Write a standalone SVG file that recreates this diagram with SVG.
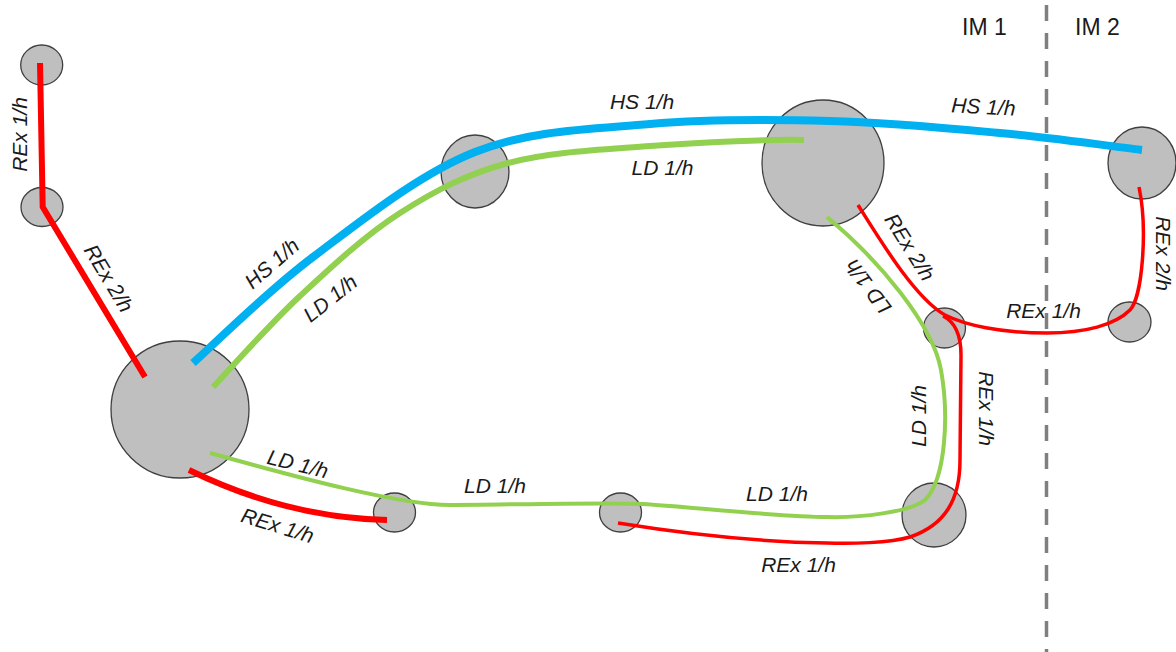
<svg xmlns="http://www.w3.org/2000/svg" width="1176" height="652" viewBox="0 0 1176 652">
<style>
.node{fill:#bfbfbf;stroke:#3f3f3f;stroke-width:1.3}
.ln{fill:none;stroke-linecap:butt;stroke-linejoin:miter}
.hs{stroke:#00b0f0;stroke-width:8}
.ldT{stroke:#92d050;stroke-width:6}
.ld{stroke:#92d050;stroke-width:4}
.rxT{stroke:#ff0000;stroke-width:6}
.rx{stroke:#ff0000;stroke-width:3.5}
.lbl{font-family:"Liberation Sans",Arial,sans-serif;font-style:italic;font-size:21px;fill:#1a1a1a;text-anchor:middle}
.im{font-family:"Liberation Sans",Arial,sans-serif;font-size:23px;fill:#1a1a1a}
</style>
<rect width="1176" height="652" fill="#ffffff"/>
<g id="boundary">
<line x1="1046.5" y1="5" x2="1046.5" y2="652" stroke="#7f7f7f" stroke-width="3.5" stroke-dasharray="16 12"/>
<text class="im" x="962" y="34.5">IM 1</text>
<text class="im" x="1075" y="34.5">IM 2</text>
</g>
<g id="n1"><ellipse class="node" cx="41.7" cy="65" rx="21" ry="20"/></g>
<g id="n2"><ellipse class="node" cx="42" cy="207" rx="21" ry="19.5"/></g>
<g id="n3"><ellipse class="node" cx="180" cy="409.5" rx="69" ry="68.5"/></g>
<g id="n4"><ellipse class="node" cx="394.5" cy="512.5" rx="21" ry="19.5"/></g>
<g id="n5"><ellipse class="node" cx="475" cy="171.5" rx="34" ry="36.5"/></g>
<g id="n6"><ellipse class="node" cx="823" cy="163" rx="61" ry="63"/></g>
<g id="n7"><ellipse class="node" cx="1142" cy="163" rx="34" ry="36"/></g>
<g id="n8"><ellipse class="node" cx="944.5" cy="328" rx="21" ry="20"/></g>
<g id="n9"><ellipse class="node" cx="1129.5" cy="322" rx="21.5" ry="20"/></g>
<g id="n10"><ellipse class="node" cx="934" cy="515" rx="32" ry="32"/></g>
<g id="n11"><ellipse class="node" cx="620.5" cy="512.5" rx="21" ry="19.5"/></g>
<g id="connectors">
<path class="ln rxT" d="M40,63 L42.7,207 L145,377"/>
<path class="ln rxT" d="M189,470 C230,490 300,518 387,520"/>
<path class="ln hs" d="M193,363 C213,345.3 266,292.2 313,257 C360,221.8 418.8,174.2 475,152 C531.2,129.8 590.8,129.2 650,124 C709.2,118.8 771.7,119.5 830,121 C888.3,122.5 948,128.2 1000,133 C1052,137.8 1118.3,147.2 1142,150"/>
<path class="ln ldT" d="M213,387 C227.5,371.8 268.8,325 300,296 C331.2,267 365.3,235.2 400,213 C434.7,190.8 466.3,174.2 508,163 C549.7,151.8 600.7,149.8 650,146 C699.3,142.2 778.3,139 804,140"/>
<path class="ln ld" d="M827,217 C879,260 933,325 941,370 C949,415 946,479 925,500 C910,512 860,518 827,517 C780,517 690,507 643,504 C600,502 500,505 450,505 C400,505 300,478 210,453"/>
<path class="ln rx" d="M858,205 C880,240 915,298 945,315 C965,325 1000,333 1047,333 C1085,333 1115,325 1130,310 C1142,298 1148,230 1139,187"/>
<path class="ln rx" d="M943,316 C955,322 961,335 961,355 L960,460 C960,500 945,525 910,537 C890,543 850,544 827,543 C760,542 680,533 618,523"/>
</g>
<g id="labels">
<text class="lbl" transform="translate(26.5,134.5) rotate(-90)">REx 1/h</text>
<text class="lbl" transform="translate(102.5,282) rotate(59)">REx 2/h</text>
<text class="lbl" transform="translate(276.6,268.9) rotate(-41.3)">HS 1/h</text>
<text class="lbl" transform="translate(334.7,303.9) rotate(-38.5)">LD 1/h</text>
<text class="lbl" x="642" y="109">HS 1/h</text>
<text class="lbl" x="662.5" y="175">LD 1/h</text>
<text class="lbl" transform="translate(983,114) rotate(3)">HS 1/h</text>
<text class="lbl" transform="translate(903.6,251) rotate(58)">REx 2/h</text>
<text class="lbl" transform="translate(874,282.5) rotate(-126.5)">LD 1/h</text>
<text class="lbl" transform="translate(1156,253.5) rotate(90)">REx 2/h</text>
<text class="lbl" x="1043.5" y="318">REx 1/h</text>
<text class="lbl" transform="translate(926,416) rotate(-90)">LD 1/h</text>
<text class="lbl" transform="translate(979,408.5) rotate(90)">REx 1/h</text>
<text class="lbl" transform="translate(296,471) rotate(14)">LD 1/h</text>
<text class="lbl" transform="translate(275.5,532.5) rotate(17)">REx 1/h</text>
<text class="lbl" x="495" y="493">LD 1/h</text>
<text class="lbl" x="777" y="501">LD 1/h</text>
<text class="lbl" x="798.5" y="572">REx 1/h</text>
</g>
</svg>
